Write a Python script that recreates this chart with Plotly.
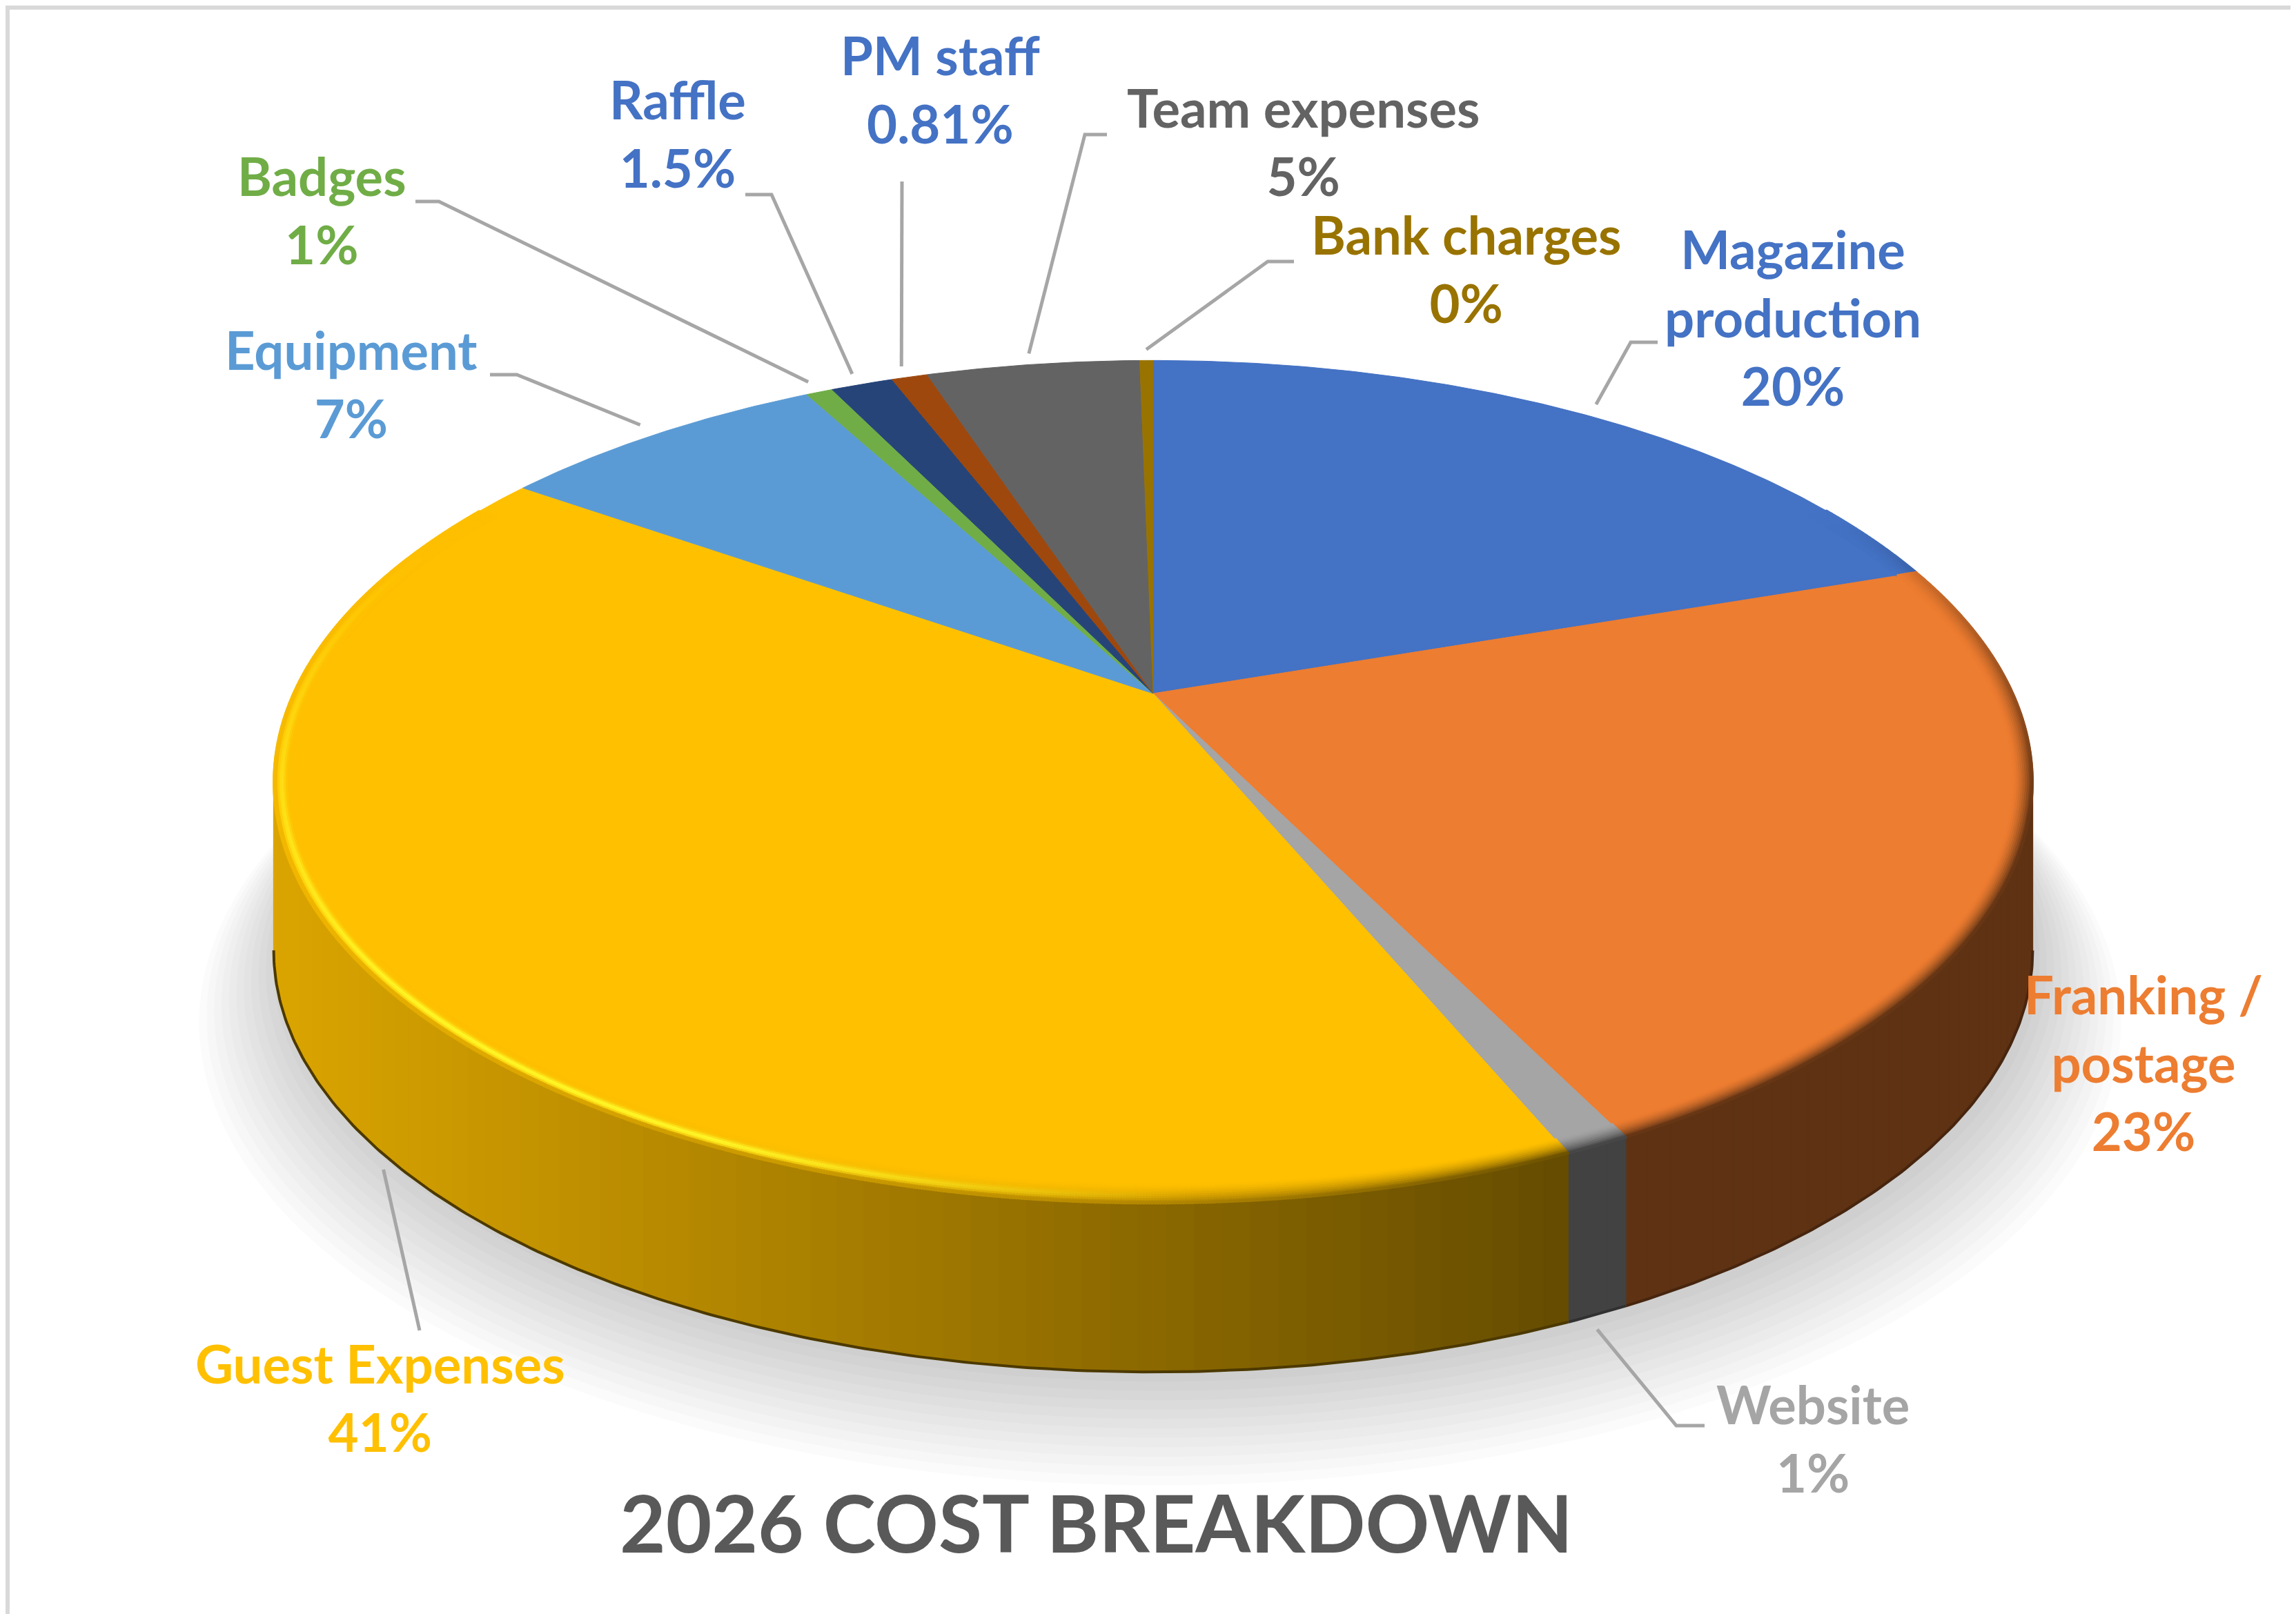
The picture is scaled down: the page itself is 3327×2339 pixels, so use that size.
import numpy as np
import plotly.graph_objects as go

# ---------------- data ----------------
categories = ["Magazine production", "Franking / postage", "Website", "Guest Expenses",
              "Equipment", "Badges", "Raffle", "PM staff", "Team expenses", "Bank charges"]
values = [19.8, 22.8, 1.0, 41.0, 7.4, 0.6, 1.4, 0.81, 4.8, 0.3]
pct_labels = ["20%", "23%", "1%", "41%", "7%", "1%", "1.5%", "0.81%", "5%", "0%"]
title_text = "2026 COST BREAKDOWN"

# ---------------- styles ----------------
top_colors = ["#4472C4", "#ED7D31", "#A5A5A5", "#FFC000", "#5B9BD5",
              "#70AD47", "#264478", "#9E480E", "#636363", "#997300"]
label_colors = ["#4472C4", "#ED7D31", "#A5A5A5", "#FFC000", "#5B9BD5",
                "#70AD47", "#4472C4", "#4472C4", "#636363", "#997300"]
wraps = {"Magazine production": "Magazine<br>production",
         "Franking / postage": "Franking /<br>postage"}

# ---------------- layout geometry (pixels) ----------------
W, H = 3327, 2339
CX, CY, RX, RY, K, DEPTH = 1663, 997, 1246, 584, 0.21, 244
FONT = "Lato, 'Open Sans', sans-serif"
LBL_DY = -12

label_pos = [(2590, 463), (3098, 1543), (2619, 2088), (543, 2029), (501, 560),
             (458, 308), (974, 197), (1354, 133), (1880, 209), (2116, 393)]
leader_tail = [[(2355, 488), (2394, 488)], None, [(2421, 2058), (2462, 2058)],
               [(600, 1920)], [(741, 535), (702, 535)], [(628, 284), (594, 284)],
               [(1110, 274), (1072, 274)], [(1299, 255)], [(1564, 187), (1596, 187)],
               [(1829, 371), (1867, 371)]]


def proj(theta_deg, r=1.0, dz=0.0):
    t = np.radians(theta_deg)
    u = r * np.sin(t)
    v = -r * np.cos(t)
    s = 1.0 / (1.0 - K * v)
    return CX + RX * u * s, CY + RY * v * s + dz


def hex_rgb(h):
    h = h.lstrip("#")
    return np.array([int(h[i:i + 2], 16) for i in (0, 2, 4)], dtype=float)


def rgb_str(c):
    c = np.clip(c, 0, 255)
    return "rgb(%d,%d,%d)" % (int(c[0]), int(c[1]), int(c[2]))


total = float(sum(values))
bounds = np.concatenate([[0.0], np.cumsum(values) / total * 360.0])
n = len(values)

fig = go.Figure()


def poly(xs, ys, fill, line_col=None, lw=0):
    fig.add_trace(go.Scatter(
        x=xs, y=ys, fill="toself", fillcolor=fill,
        mode="lines" if lw > 0 else "none",
        line=dict(color=line_col or fill, width=lw),
        hoverinfo="skip", showlegend=False))


# soft shadow under the pie
th_all = np.linspace(0, 360, 361)
for i in range(12):
    xs, ys = proj(th_all, 1.0 + 0.008 * i, DEPTH + 14 + 6 * i)
    poly(xs + 10, ys, "rgba(0,0,0,0.016)")

# side walls (front part only), shaded left->right
th_R = float(np.degrees(np.arccos(-K)))
th_L = 360.0 - th_R
xL = proj(th_L)[0]
xDark = 2249.0


def side_factor(x):
    return np.clip(0.86 - 0.46 * (np.asarray(x) - xL) / (xDark - xL), 0.40, 0.86)


for i in range(n):
    a0, a1 = max(bounds[i], th_R), min(bounds[i + 1], th_L)
    if a1 <= a0:
        continue
    nstr = max(1, int(np.ceil((a1 - a0) / 1.5)))
    edges = np.linspace(a0, a1, nstr + 1)
    base = hex_rgb(top_colors[i])
    for e0, e1 in zip(edges[:-1], edges[1:]):
        th = np.linspace(e0, e1, 4)
        xt, yt = proj(th)
        xb, yb = proj(th[::-1], dz=DEPTH)
        col = rgb_str(base * float(side_factor(np.mean(xt))))
        poly(np.concatenate([xt, xb, xt[:1]]), np.concatenate([yt, yb, yt[:1]]), col, col, 1.5)
    # dark outline along the bottom edge
    th = np.linspace(a0, a1, max(3, int((a1 - a0) / 0.5) + 2))
    xb, yb = proj(th, dz=DEPTH)
    fig.add_trace(go.Scatter(x=xb, y=yb, mode="lines",
                             line=dict(color=rgb_str(base * 0.30), width=4),
                             hoverinfo="skip", showlegend=False))

# top faces
for i in range(n):
    npt = max(4, int((bounds[i + 1] - bounds[i]) / 0.5) + 2)
    th = np.linspace(bounds[i], bounds[i + 1], npt)
    xr, yr = proj(th)
    poly(np.concatenate([[CX], xr, [CX]]), np.concatenate([[CY], yr, [CY]]),
         top_colors[i], top_colors[i], 1)

# rounded bevel along the front rim: per-point coloured markers
HL = np.array([255.0, 248.0, 40.0])


def hl_strength(th):
    return np.interp(th, [178, 205, 228, 265, 292], [0.0, 1.0, 1.0, 0.45, 0.0])


def front_weight(th):
    return np.clip((th - 62) / 45.0, 0, 1) * np.clip((300 - th) / 45.0, 0, 1)


bx, by, bc = [], [], []
for i in range(n):
    a0, a1 = max(bounds[i], 60.0), min(bounds[i + 1], 300.0)
    if a1 <= a0:
        continue
    base = hex_rgb(top_colors[i])
    th = np.arange(a0, a1, 0.15)
    x1, y1 = proj(th, 1.0)
    x0, y0 = proj(th, 0.9)
    dx, dy = x0 - x1, y0 - y1
    nn = np.hypot(dx, dy)
    dx, dy = dx / nn, dy / nn
    w = (1.0 - (side_factor(x1) - 0.40) / 0.46) * front_weight(th)
    hstr = hl_strength(th)
    dark = base[None, :] * side_factor(x1)[:, None]
    for d in [27, 24, 21, 18, 15, 12, 9, 6, 3, 1]:
        a = (w * (1 - d / 28.0) ** 1.6)[:, None]
        col = base[None, :] * (1 - a) + dark * a
        hamt = (hstr * np.exp(-((d - 11) / 5.5) ** 2))[:, None]
        col = col * (1 - hamt) + HL[None, :] * hamt
        if d <= 4:
            edge = (hstr * 0.5)[:, None]
            col = col * (1 - edge) + dark * edge
        bx.append(x1 + dx * d)
        by.append(y1 + dy * d)
        bc.extend(rgb_str(c) for c in col)
fig.add_trace(go.Scatter(x=np.concatenate(bx), y=np.concatenate(by), mode="markers",
                         marker=dict(size=5, color=bc, line=dict(width=0)),
                         hoverinfo="skip", showlegend=False))

# leader lines
for i in range(n):
    if leader_tail[i] is None:
        continue
    mid = 0.5 * (bounds[i] + bounds[i + 1])
    if th_R < mid < th_L:
        ax, ay = proj(mid, 1.0, DEPTH + 22)
    else:
        ax, ay = proj(mid, 1.04)
    xs = [float(ax)] + [p[0] for p in leader_tail[i]]
    ys = [float(ay)] + [p[1] for p in leader_tail[i]]
    fig.add_trace(go.Scatter(x=xs, y=ys, mode="lines", line=dict(color="#A6A6A6", width=5),
                             hoverinfo="skip", showlegend=False))

# data labels
for i in range(n):
    name = wraps.get(categories[i], categories[i])
    fig.add_annotation(x=label_pos[i][0], y=label_pos[i][1] + LBL_DY, xref="x", yref="y",
                       text=name + "<br>" + pct_labels[i], showarrow=False,
                       align="center", xanchor="center", yanchor="middle",
                       font=dict(family=FONT, size=76, color=label_colors[i], weight="bold"))

# title
fig.add_annotation(x=1580, y=2209 + LBL_DY, xref="x", yref="y", text=title_text, showarrow=False,
                   xanchor="center", yanchor="middle",
                   font=dict(family=FONT, size=115, color="#595959", weight="bold"))

# chart border
fig.add_shape(type="rect", xref="x", yref="y", x0=3, y0=3, x1=W - 3, y1=H - 3,
              line=dict(color="#D9D9D9", width=6), fillcolor="rgba(0,0,0,0)", layer="above")

fig.update_layout(
    width=W, height=H, margin=dict(l=0, r=0, t=0, b=0),
    paper_bgcolor="white", plot_bgcolor="white", showlegend=False,
    xaxis=dict(range=[0, W], visible=False, fixedrange=True),
    yaxis=dict(range=[H, 0], visible=False, fixedrange=True),
)

fig.write_html("out.html")
